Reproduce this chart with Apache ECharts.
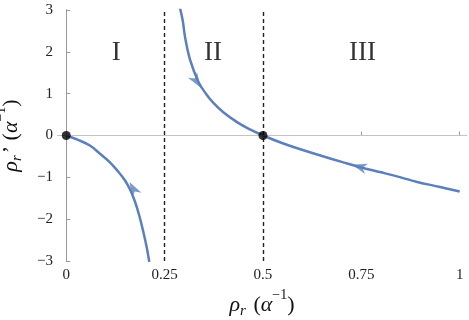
<!DOCTYPE html>
<html>
<head>
<meta charset="utf-8">
<script src="https://cdn.jsdelivr.net/npm/echarts@6/dist/echarts.min.js"></script>
<style>
html, body { margin: 0; padding: 0; background: #fff; }
#chart { width: 469px; height: 320px; }
</style>
</head>
<body>
<div id="chart"></div>
<script>
// curve, region I (from the origin downwards)
var branchOne = [
  [0, 0], [0.03, -0.105], [0.06, -0.24], [0.085, -0.43], [0.111, -0.64],
  [0.13, -0.84], [0.149, -1.07], [0.163, -1.31], [0.175, -1.59],
  [0.186, -1.93], [0.196, -2.31], [0.204, -2.65], [0.211, -3.02]
];
// regions II + III (from the top down to rho = 1)
var branchTwo = [
  [0.289, 3.05], [0.296, 2.75], [0.302, 2.35], [0.315, 1.8], [0.336, 1.28],
  [0.355, 1.0], [0.374, 0.78], [0.4, 0.55], [0.434, 0.32], [0.467, 0.145],
  [0.5, 0], [0.55, -0.185], [0.595, -0.33], [0.65, -0.49], [0.7, -0.63],
  [0.748, -0.76], [0.8, -0.88], [0.85, -1.0], [0.892, -1.11], [0.95, -1.23],
  [1.0, -1.34]
];
var fixedPoints = [[0, 0], [0.5, 0]];
var boundaries = [0.25, 0.5];
var regionNames = ['I', 'II', 'III'];
var regionX = [0.127, 0.373, 0.753];
var regionY = [1.97, 1.97, 1.97];
// arrow: which branch, where, and +1 = along data order, -1 = against it
var arrowBranch = [0, 1, 1];
var arrowAt = [[0.17, -1.27], [0.331, 1.3], [0.745, -0.75]];
var arrowSense = [-1, 1, -1];
var xTicks = [0, 0.25, 0.5, 0.75, 1];

var blue = '#5b80bd';
var serif = 'Liberation Serif';
var arrowPath = 'path://M5,0 L10,14 L5,10 L0,14 Z';

function fmt(v) {
  return v < 0 ? '\u2212' + (-v) : String(v);
}

var chart = echarts.init(document.getElementById('chart'));

var nameRich = {
  it: { fontFamily: serif, fontStyle: 'italic', fontSize: 22, color: '#111', lineHeight: 28, verticalAlign: 'bottom' },
  n: { fontFamily: serif, fontSize: 22, color: '#111', lineHeight: 28, verticalAlign: 'bottom' },
  sub: { fontFamily: serif, fontStyle: 'italic', fontSize: 15, color: '#111', lineHeight: 15, verticalAlign: 'bottom', padding: [0, 2, -3, 0] },
  sup: { fontFamily: serif, fontSize: 14, color: '#111', lineHeight: 14, verticalAlign: 'top', padding: [0, 0, 0, 0] }
};

var option = {
  animation: false,
  grid: { left: 58, right: 3, top: 10, bottom: 59, outerBoundsMode: 'none', containLabel: false },
  xAxis: [{
    type: 'value', min: -0.021, max: 1.016,
    name: '{it|\u03c1}{sub|r}{n| (}{it|\u03b1}{sup|\u22121}{n|)}',
    nameLocation: 'middle', nameGap: 5,
    nameTextStyle: { rich: nameRich },
    axisLine: { show: true, lineStyle: { color: '#999', width: 1 } },
    axisTick: { show: true, inside: true, length: 4, customValues: xTicks, lineStyle: { color: '#999' } },
    axisLabel: { customValues: xTicks, formatter: fmt, fontFamily: serif, fontSize: 15, color: '#222', margin: 7 },
    splitLine: { show: false }
  }, {
    type: 'value', min: -0.021, max: 1.016, position: 'top',
    axisLine: { show: true, lineStyle: { color: '#999', width: 1 } },
    axisTick: { show: false }, axisLabel: { show: false }, splitLine: { show: false }
  }],
  yAxis: [{
    type: 'value', min: -3, max: 3, interval: 1,
    name: '{it|\u03c1}{sub|r}{n|\u2019 (}{it|\u03b1}{sup|\u22121}{n|)}',
    nameLocation: 'middle', nameGap: 36, nameRotate: 90,
    nameTextStyle: { rich: nameRich },
    axisLine: { show: true, lineStyle: { color: '#999', width: 1 } },
    axisTick: { show: true, inside: true, length: 4, lineStyle: { color: '#999' } },
    axisLabel: { formatter: fmt, fontFamily: serif, fontSize: 15, color: '#222', margin: 5 },
    splitLine: { show: false }
  }, {
    type: 'value', min: -3, max: 3, position: 'right',
    axisLine: { show: true, lineStyle: { color: '#999', width: 1 } },
    axisTick: { show: false }, axisLabel: { show: false }, splitLine: { show: false }
  }],
  series: [
    {
      type: 'line', data: [], silent: true, z: 1,
      markLine: {
        silent: true, symbol: 'none', label: { show: false },
        data: [{ yAxis: 0, lineStyle: { color: '#c4c4c4', width: 1, type: 'solid' } }]
          .concat(boundaries.map(function (b) {
            return { xAxis: b, lineStyle: { color: '#222', width: 1.4, type: [4, 3] } };
          }))
      }
    },
    {
      type: 'line', data: branchOne, smooth: 0.4, showSymbol: false, z: 3,
      lineStyle: { color: blue, width: 2.5 }
    },
    {
      type: 'line', data: branchTwo, smooth: 0.4, showSymbol: false, z: 3,
      lineStyle: { color: blue, width: 2.5 }
    },
    {
      type: 'scatter', z: 5,
      data: fixedPoints, symbolSize: 9,
      itemStyle: { color: '#000' }
    },
    {
      type: 'scatter', z: 4, symbolSize: 0, silent: true,
      data: regionNames.map(function (n, i) { return { value: [regionX[i], regionY[i]], name: n }; }),
      label: {
        show: true, position: 'inside', formatter: '{b}',
        fontFamily: serif, fontSize: 27, color: '#000'
      }
    }
  ]
};
chart.setOption(option);

// arrowheads: orient along the nearest segment of their branch
var branches = [branchOne, branchTwo];
var arrowData = arrowAt.map(function (p, i) {
  var pts = branches[arrowBranch[i]];
  var best = 0, bestD = Infinity;
  var b = chart.convertToPixel({ xAxisIndex: 0, yAxisIndex: 0 }, p);
  for (var k = 0; k < pts.length - 1; k++) {
    var mx = (pts[k][0] + pts[k + 1][0]) / 2, my = (pts[k][1] + pts[k + 1][1]) / 2;
    var a = chart.convertToPixel({ xAxisIndex: 0, yAxisIndex: 0 }, [mx, my]);
    var d = (a[0] - b[0]) * (a[0] - b[0]) + (a[1] - b[1]) * (a[1] - b[1]);
    if (d < bestD) { bestD = d; best = k; }
  }
  var p1 = chart.convertToPixel({ xAxisIndex: 0, yAxisIndex: 0 }, pts[best]);
  var p2 = chart.convertToPixel({ xAxisIndex: 0, yAxisIndex: 0 }, pts[best + 1]);
  var dx = (p2[0] - p1[0]) * arrowSense[i], dy = (p2[1] - p1[1]) * arrowSense[i];
  var ang = Math.atan2(-dy, dx) * 180 / Math.PI - 90;
  return { value: p, symbolRotate: ang };
});

chart.setOption({
  series: option.series.concat([{
    type: 'scatter', z: 6, silent: true,
    symbol: arrowPath, symbolSize: 15, symbolKeepAspect: true,
    itemStyle: { color: blue },
    data: arrowData
  }])
});
</script>
</body>
</html>
